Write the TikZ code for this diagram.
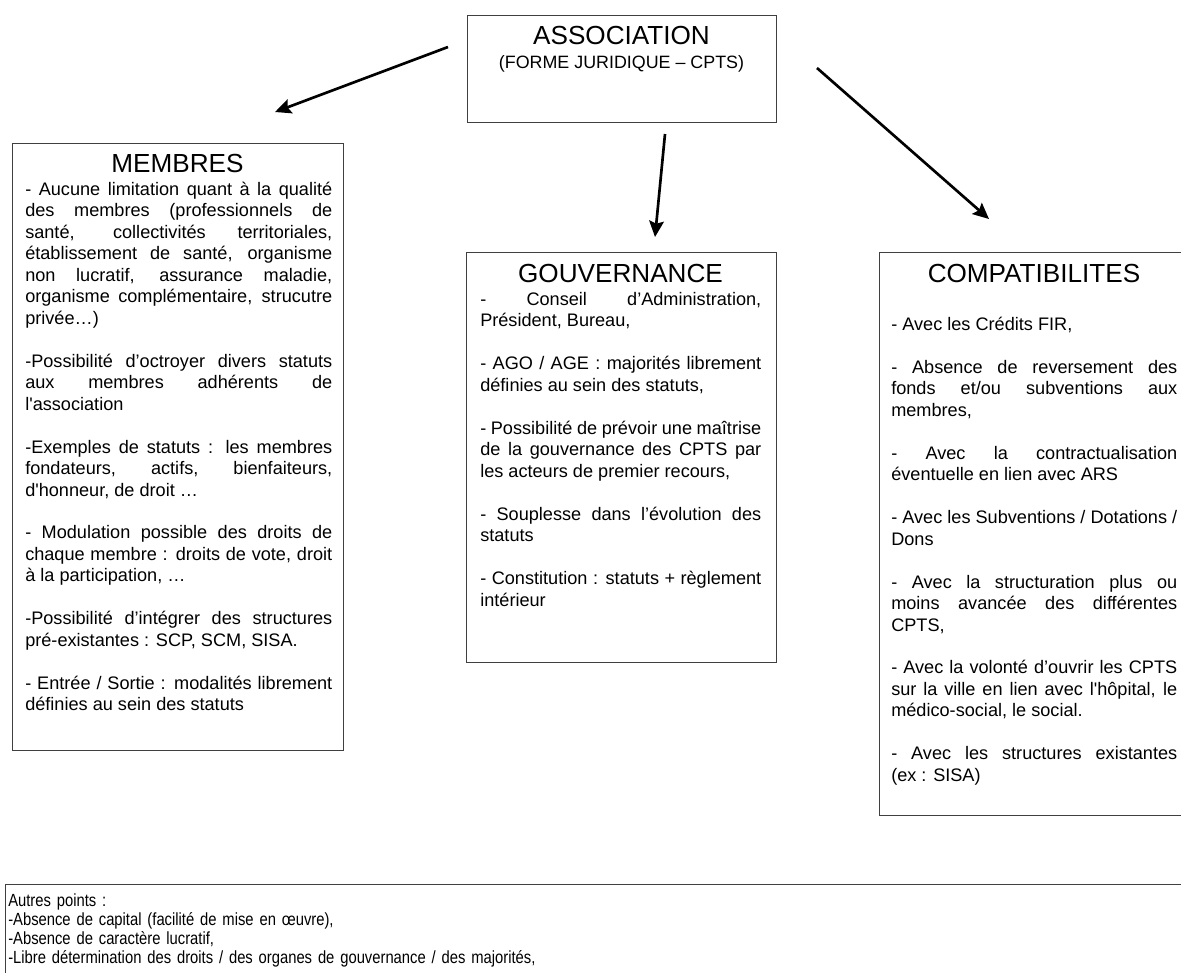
\documentclass[tikz,border=0pt]{standalone}
\usepackage{fontspec}
\setmainfont{Liberation Sans}[Ligatures=TeXOff]
\newfontfamily\narrowfont{Liberation Sans}[FakeStretch=0.84, Ligatures=TeXOff]
\usetikzlibrary{arrows.meta}

\newcommand{\titlesize}{\fontsize{19.6}{22.5}\selectfont}
\newcommand{\subsize}{\fontsize{13.4}{15.4}\selectfont}
\newcommand{\bodysize}{\fontsize{13.6}{16.1}\selectfont\hyphenpenalty=10000 \exhyphenpenalty=10000 \tolerance=10000 \hbadness=10000}
\newcommand{\notesize}{\narrowfont\fontsize{13.2}{14.25}\selectfont}
\newcommand{\blank}{\par\vspace{16.1pt}}

\tikzset{
  frame/.style={draw=black!75, line width=1.1pt, anchor=north west, inner sep=0pt},
  heading/.style={anchor=base, inner sep=0pt, font=\titlesize},
  bodytext/.style={anchor=base west, inner sep=0pt, align=justify, font=\bodysize},
  link/.style={line width=2pt, -{Stealth[length=12pt, width=11pt, inset=2pt]}}
}

\begin{document}
\begin{tikzpicture}[x=0.75pt, y=-0.75pt]
    \useasboundingbox (0,0) rectangle (1181,972);

    % frames
    \node[frame, minimum width=231.75pt, minimum height=80.25pt] (assoc) at (467,15) {};
    \node[frame, minimum width=248.25pt, minimum height=455.25pt] (membres) at (12,143) {};
    \node[frame, minimum width=232.5pt, minimum height=307.5pt] (gouv) at (466,252) {};
    \node[frame, minimum width=231pt, minimum height=422.25pt] (compat) at (879,252) {};
    \node[frame, minimum width=892.5pt, minimum height=82.5pt] (others) at (5,884) {};

    % association
    \node[heading] (assoc title) at (621.5,44.4) {ASSOCIATION};
    \node[anchor=base, inner sep=0pt, font=\subsize] (assoc sub) at (621.5,68.4) {(FORME JURIDIQUE – CPTS)};

    % membres
    \node[heading] (membres title) at (177.5,172.4) {MEMBRES};
    \node[bodytext, text width=230.25pt] (membres text) at (25,195.5) {%
        - Aucune limitation quant à la qualité\linebreak
        des membres (professionnels de\linebreak
        santé, collectivités territoriales,\linebreak
        établissement de santé, organisme\linebreak
        non lucratif, assurance maladie,\linebreak
        organisme complémentaire, strucutre\linebreak
        privée…)\blank
        -Possibilité d’octroyer divers statuts\linebreak
        aux membres adhérents de\linebreak
        l'association\blank
        -Exemples de statuts : les membres\linebreak
        fondateurs, actifs, bienfaiteurs,\linebreak
        d'honneur, de droit …\blank
        - Modulation possible des droits de\linebreak
        chaque membre : droits de vote, droit\linebreak
        à la participation, …\blank
        -Possibilité d’intégrer des structures\linebreak
        pré-existantes : SCP, SCM, SISA.\blank
        - Entrée / Sortie : modalités librement\linebreak
        définies au sein des statuts};

    % gouvernance
    \node[heading] (gouv title) at (620.5,282.4) {GOUVERNANCE};
    \node[bodytext, text width=210.75pt] (gouv text) at (480,305.5) {%
        - Conseil d’Administration,\linebreak
        Président, Bureau,\blank
        - AGO / AGE : majorités librement\linebreak
        définies au sein des statuts,\blank
        - Possibilité de prévoir une maîtrise\linebreak
        de la gouvernance des CPTS par\linebreak
        les acteurs de premier recours,\blank
        - Souplesse dans l’évolution des\linebreak
        statuts\blank
        - Constitution : statuts + règlement\linebreak
        intérieur};

    % compatibilites
    \node[heading] (compat title) at (1034,282.4) {COMPATIBILITES};
    \node[bodytext, text width=214.5pt] (compat text) at (891,330.5) {%
        - Avec les Crédits FIR,\blank
        - Absence de reversement des\linebreak
        fonds et/ou subventions aux\linebreak
        membres,\blank
        - Avec la contractualisation\linebreak
        éventuelle en lien avec ARS\blank
        - Avec les Subventions / Dotations /\linebreak
        Dons\blank
        - Avec la structuration plus ou\linebreak
        moins avancée des différentes\linebreak
        CPTS,\blank
        - Avec la volonté d’ouvrir les CPTS\linebreak
        sur la ville en lien avec l'hôpital, le\linebreak
        médico-social, le social.\blank
        - Avec les structures existantes\linebreak
        (ex : SISA)};

    % autres points
    \node[anchor=base west, inner sep=0pt, text width=800pt, align=left, font=\notesize] (others text) at (8,906) {%
        Autres points :\\
        -Absence de capital (facilité de mise en œuvre),\\
        -Absence de caractère lucratif,\\
        -Libre détermination des droits / des organes de gouvernance / des majorités,};

    % arrows
    \coordinate (left start) at (448,47);
    \coordinate (left end) at (275,112);
    \coordinate (mid start) at (665,134);
    \coordinate (mid end) at (655,237);
    \coordinate (right start) at (817,68);
    \coordinate (right end) at (989,219);
    \draw[link] (left start) -- (left end);
    \draw[link] (mid start) -- (mid end);
    \draw[link] (right start) -- (right end);
\end{tikzpicture}
\end{document}
